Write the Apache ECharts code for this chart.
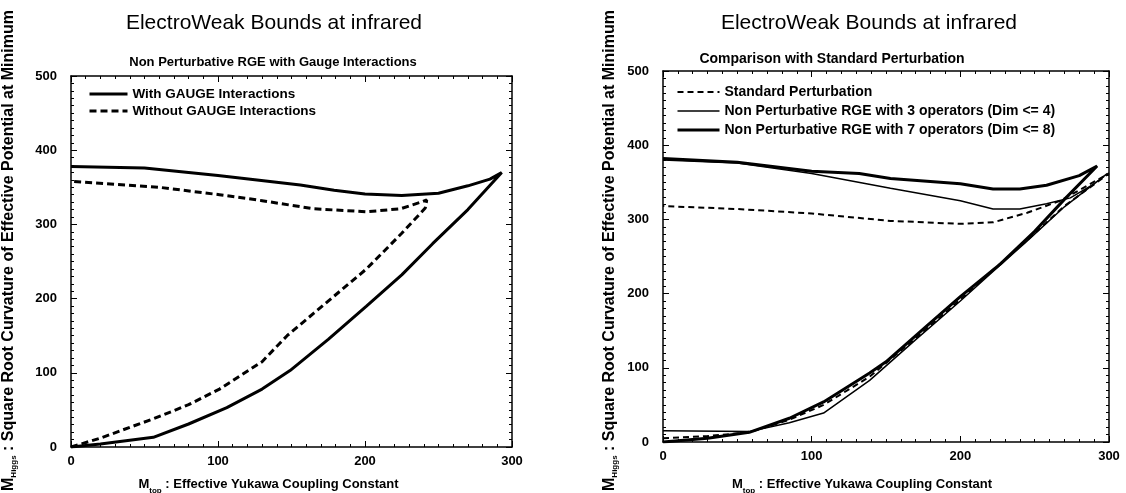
<!DOCTYPE html>
<html>
<head>
<meta charset="utf-8">
<title>ElectroWeak Bounds</title>
<script src="https://cdn.jsdelivr.net/npm/echarts@6/dist/echarts.min.js"></script>
<style>
  html, body { margin: 0; padding: 0; background: #fff; }
  #main { width: 1126px; height: 493px; }
</style>
</head>
<body>
<div id="main"></div>
<script>
// ---- data (x = M_top, y = M_Higgs) ----
// left panel: closed loops, lower branch then upper branch
var withGaugeX    = [0, 20, 56, 80, 106, 130, 149, 175, 201, 225, 246, 270, 293, 285, 270, 250, 225, 200, 179, 156, 100, 50, 0];
var withGaugeY    = [0, 4, 13, 31, 53, 78, 103, 145, 190, 232, 274, 320, 370, 361, 352, 342, 339, 341, 346, 353, 366, 376, 378];
var withoutGaugeX = [0, 20, 56, 80, 101, 130, 147, 165, 201, 225, 241, 242, 238, 224, 201, 165, 130, 101, 60, 0];
var withoutGaugeY = [0, 12, 38, 57, 78, 115, 150, 180, 240, 288, 322, 333, 330, 321, 317, 321, 332, 340, 350, 358];

// right panel
var stdPertX = [0, 30, 58, 85, 108, 139, 170, 200, 222, 245, 270, 300, 285, 267, 245, 222, 200, 153, 100, 50, 0];
var stdPertY = [5, 8, 13, 30, 50, 88, 140, 192, 232, 272, 318, 362, 345, 325, 309, 296, 294, 298, 308, 314, 318];
var op3X = [0, 58, 85, 108, 139, 170, 200, 222, 245, 270, 299, 290, 274, 258, 240, 222, 200, 153, 100, 50, 0];
var op3Y = [15, 14, 26, 39, 83, 138, 190, 230, 271, 317, 362, 348, 329, 321, 314, 314, 325, 342, 362, 376, 380];
var op7X = [0, 30, 58, 85, 108, 139, 150, 175, 200, 227, 250, 270, 292, 280, 258, 240, 222, 200, 153, 132, 100, 50, 0];
var op7Y = [0, 5, 13, 32, 54, 93, 108, 152, 196, 240, 284, 327, 372, 359, 346, 341, 341, 348, 355, 362, 365, 377, 382];

var xTicks = [0, 100, 200, 300];
var yTicks = [0, 100, 200, 300, 400, 500];

function pairs(xs, ys) {
  var out = [];
  for (var i = 0; i < xs.length; i++) out.push([xs[i], ys[i]]);
  return out;
}

var fontFam = '"Liberation Sans", Arial, Helvetica, sans-serif';
function richName(size) {
  return {
    m: { fontFamily: fontFam, fontSize: size, fontWeight: 'bold', color: '#000', lineHeight: 17, verticalAlign: 'top' },
    s: { fontFamily: fontFam, fontSize: 8, fontWeight: 'bold', color: '#000', lineHeight: 17, verticalAlign: 'bottom' }
  };
}

function xAxisPair(gi, gapName, shift) {
  var common = {
    type: 'value', gridIndex: gi, min: 0, max: 300, interval: 100,
    axisLine: { onZero: false, lineStyle: { color: '#000', width: 1.5 } },
    axisTick: { inside: true, length: 6, lineStyle: { color: '#000' } },
    minorTick: { show: true, splitNumber: 10, length: 3, lineStyle: { color: '#000' } },
    splitLine: { show: false }
  };
  var bottom = Object.assign({}, common, {
    position: 'bottom',
    axisLabel: { color: '#000', fontSize: 13, fontWeight: 'bold', fontFamily: fontFam, margin: 8,
      formatter: function (v) { return xTicks.indexOf(v) >= 0 ? String(v) : ''; } },
    name: '{m|M}{s|top}{m| : Effective Yukawa Coupling Constant}',
    nameLocation: 'middle', nameGap: gapName,
    nameTextStyle: { rich: richName(13), padding: [0, shift, 0, 0] }
  });
  var top = Object.assign({}, common, { position: 'top', axisLabel: { show: false } });
  return [bottom, top];
}

function yAxisPair(gi, gapName, shift) {
  var common = {
    type: 'value', gridIndex: gi, min: 0, max: 500, interval: 100,
    axisLine: { onZero: false, lineStyle: { color: '#000', width: 1.5 } },
    axisTick: { inside: true, length: 6, lineStyle: { color: '#000' } },
    minorTick: { show: true, splitNumber: 10, length: 3, lineStyle: { color: '#000' } },
    splitLine: { show: false }
  };
  var left = Object.assign({}, common, {
    position: 'left',
    axisLabel: { color: '#000', fontSize: 13, fontWeight: 'bold', fontFamily: fontFam, margin: 14,
      formatter: function (v) { return yTicks.indexOf(v) >= 0 ? String(v) : ''; } },
    name: '{m|M}{s|Higgs}{m| : Square Root Curvature of Effective Potential at Minimum}',
    nameLocation: 'middle', nameGap: gapName,
    nameTextStyle: { rich: richName(16), padding: [0, 0, 0, shift] }
  });
  var right = Object.assign({}, common, { position: 'right', axisLabel: { show: false } });
  return [left, right];
}

var xa = xAxisPair(0, 31, 46).concat(xAxisPair(1, 36, 48));
var ya = yAxisPair(0, 53, 22).concat(yAxisPair(1, 44, 12));

function lineSeries(name, xs, ys, xi, yi, width, type) {
  return {
    name: name, type: 'line', xAxisIndex: xi, yAxisIndex: yi,
    data: pairs(xs, ys), symbol: 'none', smooth: false,
    lineStyle: { color: '#000', width: width, type: type },
    itemStyle: { color: '#000' }
  };
}

function legendText(size) {
  return { color: '#000', fontSize: size, fontWeight: 'bold', fontFamily: fontFam };
}

var option = {
  animation: false,
  backgroundColor: '#fff',
  title: [
    { text: 'ElectroWeak Bounds at infrared', left: 269, top: 8, textAlign: 'center',
      textStyle: { fontFamily: fontFam, fontSize: 21, fontWeight: 'normal', color: '#000' } },
    { text: 'Non Perturbative RGE with Gauge Interactions', left: 268, top: 51, textAlign: 'center',
      textStyle: { fontFamily: fontFam, fontSize: 13, fontWeight: 'bold', color: '#000' } },
    { text: 'ElectroWeak Bounds at infrared', left: 864, top: 8, textAlign: 'center',
      textStyle: { fontFamily: fontFam, fontSize: 21, fontWeight: 'normal', color: '#000' } },
    { text: 'Comparison with Standard Perturbation', left: 827, top: 47, textAlign: 'center',
      textStyle: { fontFamily: fontFam, fontSize: 14, fontWeight: 'bold', color: '#000' } }
  ],
  legend: [
    { data: ['With GAUGE Interactions', 'Without GAUGE Interactions'], orient: 'vertical',
      left: 83, top: 82, itemWidth: 38, itemHeight: 14, itemGap: 3, textStyle: legendText(13.5),
      itemStyle: { opacity: 0 }, lineStyle: { width: 'inherit' }, selectedMode: false },
    { data: ['Standard Perturbation', 'Non Perturbative RGE with 3 operators (Dim <= 4)',
             'Non Perturbative RGE with 7 operators (Dim <= 8)'], orient: 'vertical',
      left: 671, top: 80, itemWidth: 42, itemHeight: 14, itemGap: 5, textStyle: legendText(14),
      itemStyle: { opacity: 0 }, lineStyle: { width: 'inherit' }, selectedMode: false }
  ],
  grid: [
    { left: 71, top: 76, width: 441, height: 371, outerBoundsMode: 'none', containLabel: false },
    { left: 663, top: 71, width: 446, height: 371, outerBoundsMode: 'none', containLabel: false }
  ],
  xAxis: xa,
  yAxis: ya,
  series: [
    lineSeries('With GAUGE Interactions', withGaugeX, withGaugeY, 0, 0, 3, 'solid'),
    lineSeries('Without GAUGE Interactions', withoutGaugeX, withoutGaugeY, 0, 0, 3, [7, 4]),
    lineSeries('Standard Perturbation', stdPertX, stdPertY, 2, 2, 2, [6, 4]),
    lineSeries('Non Perturbative RGE with 3 operators (Dim <= 4)', op3X, op3Y, 2, 2, 1.5, 'solid'),
    lineSeries('Non Perturbative RGE with 7 operators (Dim <= 8)', op7X, op7Y, 2, 2, 3, 'solid')
  ]
};

var myChart = echarts.init(document.getElementById('main'));
myChart.setOption(option);
</script>
</body>
</html>
